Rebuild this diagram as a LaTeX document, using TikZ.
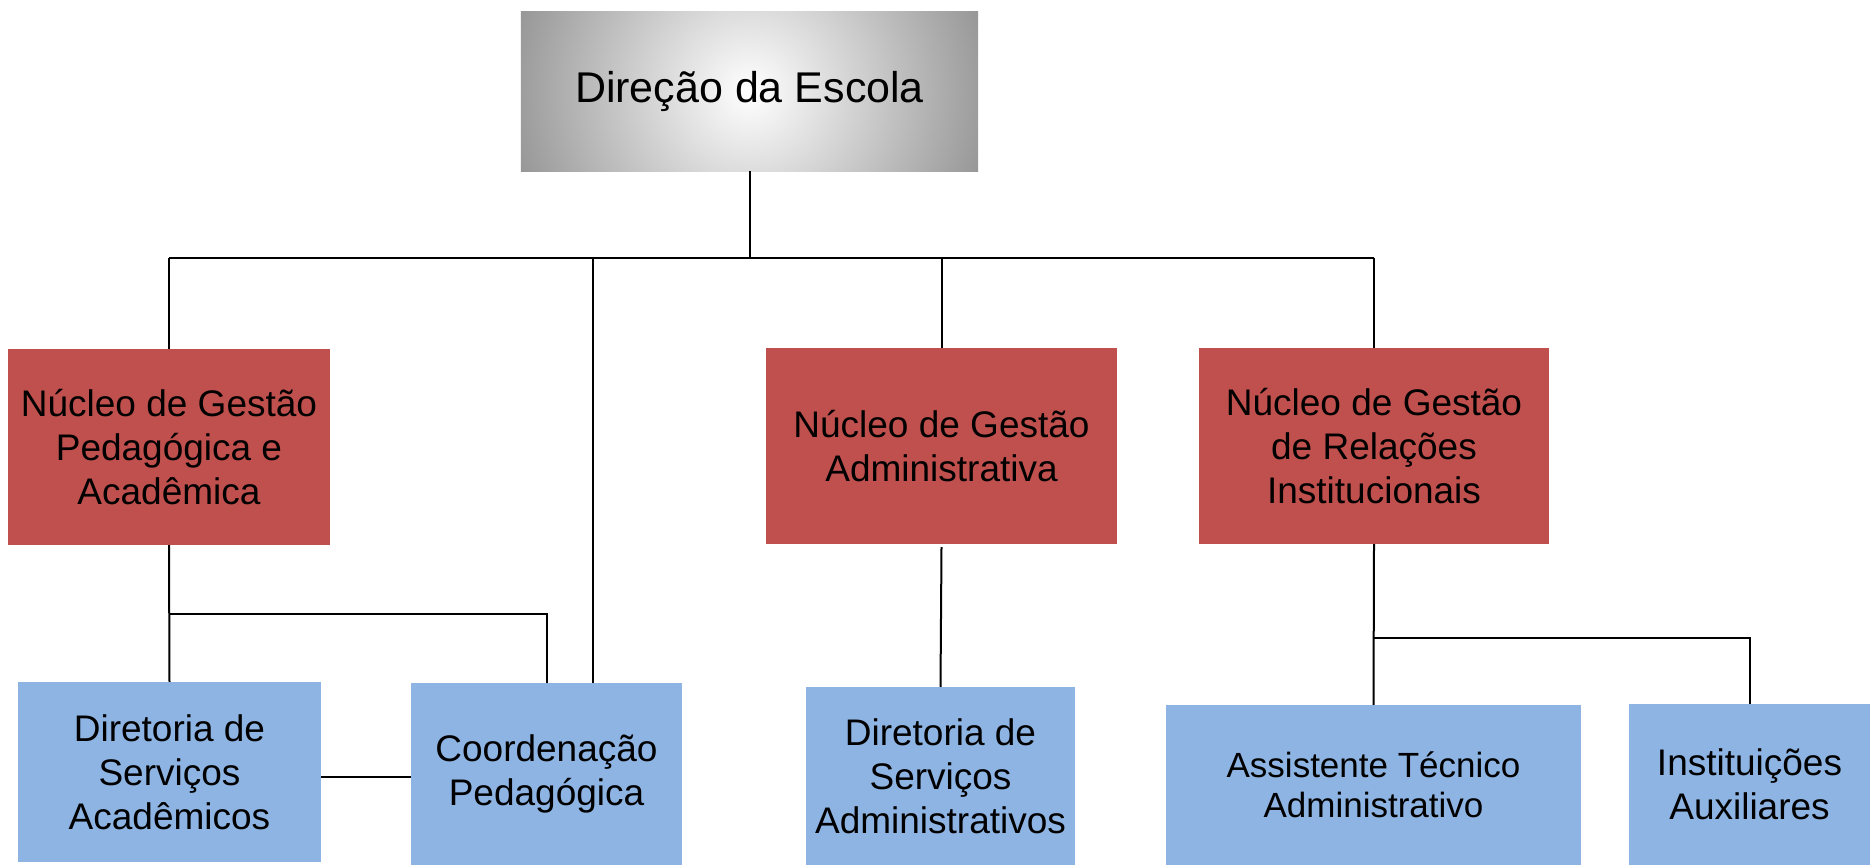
\documentclass[tikz,border=0pt]{standalone}
\usepackage{fontspec}
\setmainfont{Liberation Sans}
\usetikzlibrary{backgrounds}
\definecolor{redbox}{RGB}{192,80,77}
\definecolor{bluebox}{RGB}{142,180,227}
\definecolor{topgray}{RGB}{150,150,150}
\tikzset{
  base/.style={rectangle, draw=none, inner sep=0pt, align=center, text=black,
    font=\fontsize{37}{44}\selectfont},
  redn/.style={base, fill=redbox},
  bluen/.style={base, fill=bluebox},
  topn/.style={base, font=\fontsize{43}{50}\selectfont},
  link/.style={draw=black, line width=2pt}
}
\begin{document}
\begin{tikzpicture}[x=1pt,y=-1pt]
\useasboundingbox (0,0) rectangle (1870,865);
\node[topn, minimum width=457pt, minimum height=159pt] (top) at (749.5,91.5) {Direção da Escola};
\begin{scope}[on background layer]
  \clip (top.north west) rectangle (top.south east);
  \shade[inner color=white, outer color=topgray] (top.center) circle (245pt);
\end{scope}
\node[redn, minimum width=322pt, minimum height=196pt] (r1) at (169,447) {Núcleo de Gestão\\Pedagógica e\\Acadêmica};
\node[redn, minimum width=351pt, minimum height=196pt] (r2) at (941.5,446) {Núcleo de Gestão\\Administrativa};
\node[redn, minimum width=350pt, minimum height=196pt] (r3) at (1374,446) {Núcleo de Gestão\\de Relações\\Institucionais};
\node[bluen, minimum width=303pt, minimum height=180pt] (b1) at (169.5,772) {Diretoria de\\Serviços\\Acadêmicos};
\node[bluen, minimum width=271pt, minimum height=182pt] (b2) at (546.5,774) {Coordenação\\Pedagógica};
\node[bluen, minimum width=269pt, minimum height=178pt] (b3) at (940.5,776) {Diretoria de\\Serviços\\Administrativos};
\node[bluen, minimum width=415pt, minimum height=160pt, font=\fontsize{35}{40}\selectfont] (b4) at (1373.5,785) {Assistente Técnico\\Administrativo};
\node[bluen, minimum width=241pt, minimum height=161pt] (b5) at (1749.5,784.5) {Instituições\\Auxiliares};
\coordinate (bus) at (593,258);
\coordinate (busA) at (171,614);
\coordinate (busB) at (1374,638);
\coordinate (midy) at (0,777);
% top level
\draw[link] (top.south) -- (top.south |- bus);
\draw[link] (r1.north |- bus) -- (r3.north |- bus);
\draw[link] (r1.north |- bus) -- (r1.north);
\draw[link] (bus) -- (b2.north -| bus);
\draw[link] (r2.north |- bus) -- (r2.north);
\draw[link] (r3.north |- bus) -- (r3.north);
% pedagogic branch
\draw[link] (r1.south) -- (b1.north);
\draw[link] (r1.south |- busA) -- (b2.north |- busA) -- (b2.north);
\draw[link] (b1.east |- midy) -- (b2.west |- midy);
% administrative
\draw[link] ([yshift=-3pt]r2.south) -- (b3.north);
% institutional
\draw[link] (r3.south) -- (b4.north);
\draw[link] (r3.south |- busB) -- (b5.north |- busB) -- (b5.north);
\end{tikzpicture}
\end{document}
